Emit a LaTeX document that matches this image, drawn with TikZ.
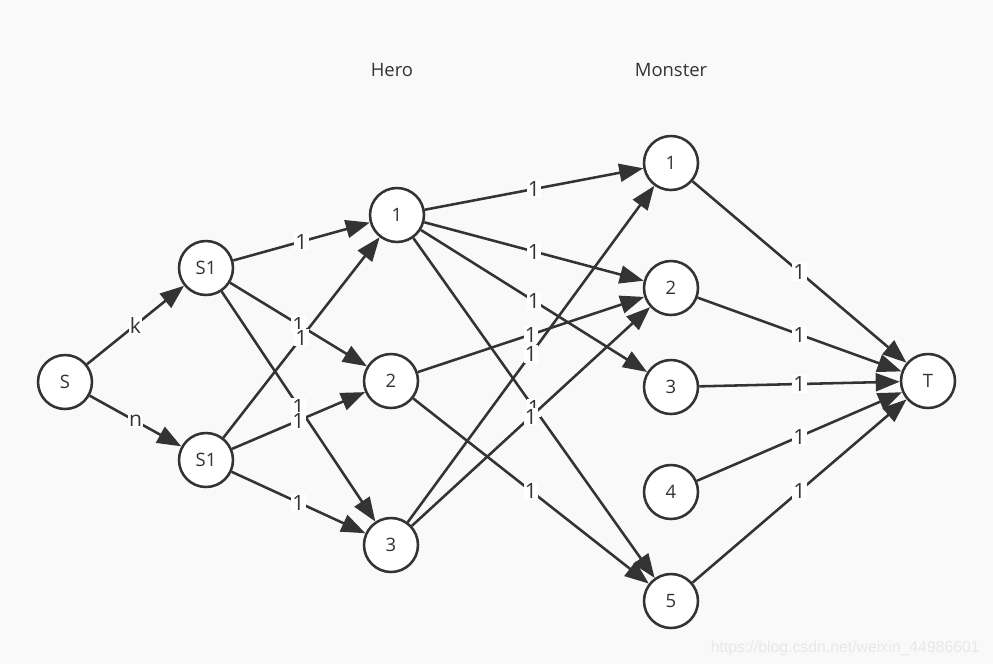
\documentclass[tikz,border=0pt]{standalone}
\usepackage{fontspec}
\setmainfont{Open Sans}
\newfontfamily\markfont{Liberation Sans}
\usetikzlibrary{arrows.meta}
\definecolor{ink}{HTML}{333333}
\definecolor{paper}{HTML}{F9F9F9}
\definecolor{faint}{HTML}{E8E8E8}
\tikzset{
    vert/.style={circle, draw=ink, line width=1.45pt, fill=white, minimum size=1.08cm,
        inner sep=0pt, text=ink, font=\fontsize{10.5}{12}\selectfont},
    flow/.style={draw=ink, line width=1.45pt, -{Triangle[length=0.48cm,width=0.36cm]}},
    weight/.style={fill=white, inner sep=0.8pt, text=ink, font=\fontsize{12}{13}\selectfont},
    title/.style={text=ink, font=\fontsize{10.5}{12}\selectfont}
}

\begin{document}
\begin{tikzpicture}[x=0.02cm, y=-0.02cm]
    \fill[paper] (0,0) rectangle (993,664);
    \useasboundingbox (0,0) rectangle (993,664);

    % column titles
    \node[title] (hero) at (392,70) {Hero};
    \node[title] (monster) at (671,70) {Monster};

    % source, split, sink
    \node[vert] (s) at (65,382) {S};
    \node[vert] (s1a) at (206,268) {S1};
    \node[vert] (s1b) at (206,460) {S1};
    \node[vert] (t) at (928,381) {T};

    % heroes
    \node[vert] (h1) at (397,215) {1};
    \node[vert] (h2) at (391,381) {2};
    \node[vert] (h3) at (391,545) {3};

    % monsters
    \foreach \i/\y in {1/163, 2/288, 3/387, 4/492, 5/601}
        \node[vert] (m\i) at (671,\y) {\i};

    \draw[flow] (s) -- node[weight]{k} (s1a);
    \draw[flow] (s) -- node[weight]{n} (s1b);

    \foreach \a/\b in {s1a/h1, s1a/h2, s1a/h3, s1b/h1, s1b/h2, s1b/h3,
                       h1/m1, h1/m2, h1/m3, h1/m5, h2/m2, h2/m5, h3/m1, h3/m2,
                       m1/t, m2/t, m3/t, m4/t, m5/t}
        \draw[flow] (\a) -- node[weight]{1} (\b);

    \node[text=faint, font=\markfont\fontsize{9}{10}\selectfont, anchor=east] (mark) at (986,648)
        {https://blog.csdn.net/weixin\_44986601};
\end{tikzpicture}
\end{document}
